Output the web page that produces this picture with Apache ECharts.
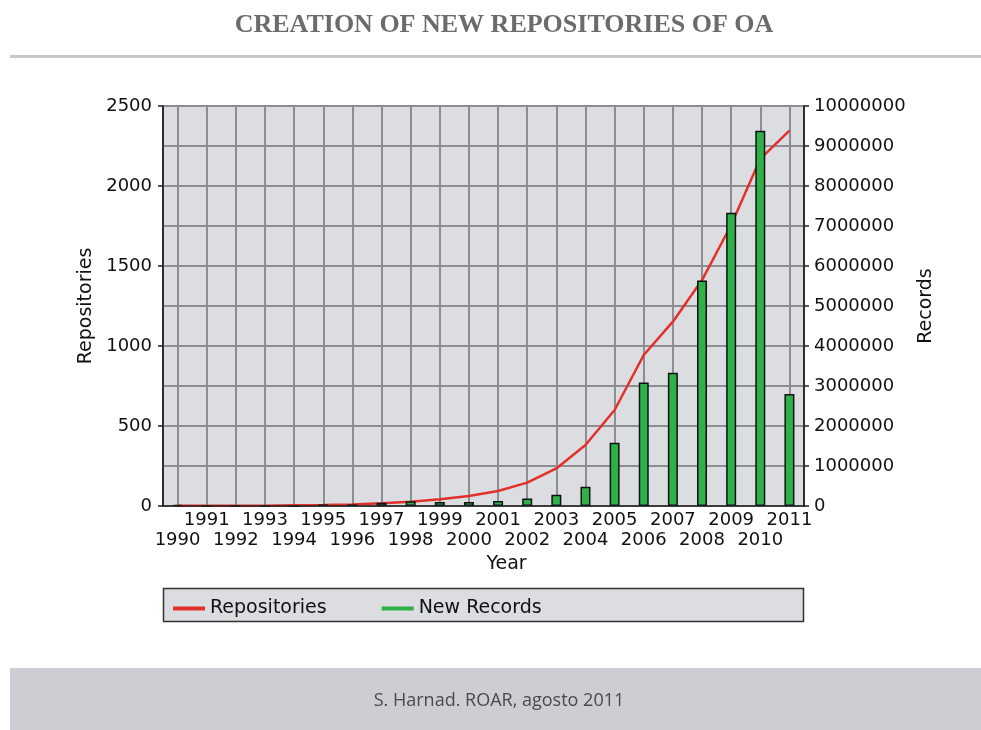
<!DOCTYPE html>
<html>
<head>
<meta charset="utf-8">
<script src="https://cdn.jsdelivr.net/npm/echarts@6/dist/echarts.min.js"></script>
<style>
html,body{margin:0;padding:0;background:#fff;}
#chart{width:981px;height:730px;}
</style>
</head>
<body>
<div id="chart"></div>
<script>
const titleText = 'CREATION OF NEW REPOSITORIES OF OA';
const sourceText = 'S. Harnad. ROAR, agosto 2011';
const years = ['1990','1991','1992','1993','1994','1995','1996','1997','1998','1999','2000','2001','2002','2003','2004','2005','2006','2007','2008','2009','2010','2011'];
const repositories = [1,1,1,2,4,6,10,17,27,42,62,94,146,235,381,600,944,1152,1412,1756,2170,2346];
const newRecords = [30000,0,0,0,0,40000,40000,80000,120000,100000,100000,125000,190000,280000,480000,1580000,3090000,3330000,5640000,7330000,9380000,2800000];
const seriesNames = ['Repositories','New Records'];

const chart = echarts.init(document.getElementById('chart'));
const FONT = 'DejaVu Sans';
const GRIDC = '#8e8e92';
const option = {
  backgroundColor: '#ffffff',
  animation: false,
  graphic: [
    {type:'text', x:504, y:12, style:{text:titleText, font:'bold 26px "Liberation Serif"', fill:'#6b6b6e', textAlign:'center'}},
    {type:'rect', shape:{x:10,y:55,width:971,height:3}, style:{fill:'#c8c8ce'}},
    {type:'rect', z:-10, shape:{x:163.5,y:588.5,width:640,height:33}, style:{fill:'#dcdde0', stroke:'#333', lineWidth:1.5}},
    {type:'rect', shape:{x:10,y:668,width:971,height:62}, style:{fill:'#cdcdd3'}},
    {type:'text', x:499, y:701, style:{text:sourceText, font:'18px "Open Sans"', fill:'#4a4a4a', textAlign:'center', textVerticalAlign:'middle'}}
  ],
  legend: {
    left: 168, top: 594,
    icon: 'rect', itemWidth: 32, itemHeight: 4, itemGap: 55,
    textStyle: {fontFamily: FONT, fontSize: 19, color: '#111'},
    data: [
      {name: seriesNames[0], itemStyle:{color:'#e2312b', borderWidth:0}},
      {name: seriesNames[1], itemStyle:{color:'#2fb14a', borderWidth:0}}
    ]
  },
  grid: {
    left: 163, right: 177, top: 106, bottom: 224,
    show: true, backgroundColor: '#dcdde0', borderColor: '#222', borderWidth: 1.5
  },
  xAxis: [
    {
      type: 'category', data: years, boundaryGap: true,
      name: 'Year', nameLocation: 'middle', nameGap: 46,
      nameTextStyle: {fontFamily: FONT, fontSize: 19, color: '#111', padding:[0,0,0,46]},
      axisLine: {onZero: false, lineStyle: {color: '#222', width: 1.5}},
      axisTick: {alignWithLabel: true, length: 5, lineStyle: {color:'#222', width: 1.5}},
      splitLine: {show: false},
      axisLabel: {
        interval: 0, margin: 4, fontFamily: FONT, fontSize: 18, color: '#111', lineHeight: 20,
        formatter: function (v, i) { return i % 2 === 0 ? '\n' + v : v; }
      },
      z: 5
    },
    {
      type: 'value', min: -0.5, max: years.length - 0.5, splitNumber: years.length,
      minInterval: 1, maxInterval: 1, position: 'bottom',
      axisLine: {show: false, onZero: false}, axisTick: {show: false}, axisLabel: {show: false},
      splitLine: {show: true, showMinLine: false, showMaxLine: false, lineStyle: {color: GRIDC, width: 2}}
    }
  ],
  yAxis: [
    {
      type: 'value', min: 0, max: 2500, interval: 500, position: 'left',
      name: 'Repositories', nameLocation: 'middle', nameGap: 51, nameRotate: 90,
      nameTextStyle: {fontFamily: FONT, fontSize: 19, color: '#111'},
      axisLine: {show: true, onZero: false, lineStyle: {color: '#222', width: 1.5}},
      axisTick: {show: true, length: 5, lineStyle: {color:'#222', width: 1.5}},
      axisLabel: {margin: 11, fontFamily: FONT, fontSize: 18, color: '#111', formatter: function (v) { return String(v); }},
      splitLine: {show: true, lineStyle: {color: GRIDC, width: 2}},
      minorTick: {show: false, splitNumber: 2},
      minorSplitLine: {show: true, lineStyle: {color: GRIDC, width: 2}}
    },
    {
      type: 'value', min: 0, max: 10000000, interval: 1000000, position: 'right',
      name: 'Records', nameLocation: 'middle', nameGap: 105, nameRotate: 90,
      nameTextStyle: {fontFamily: FONT, fontSize: 19, color: '#111'},
      axisLine: {show: true, onZero: false, lineStyle: {color: '#222', width: 1.5}},
      axisTick: {show: true, length: 5, lineStyle: {color:'#222', width: 1.5}},
      axisLabel: {margin: 10, fontFamily: FONT, fontSize: 18, color: '#111', formatter: function (v) { return String(v); }},
      splitLine: {show: false}
    }
  ],
  series: [
    {
      name: seriesNames[0], type: 'line', xAxisIndex: 0, yAxisIndex: 0, data: repositories,
      showSymbol: false, symbol: 'none', z: 2,
      lineStyle: {color: '#e2312b', width: 2.5},
      itemStyle: {color: '#e2312b'}
    },
    {
      name: seriesNames[1], type: 'bar', xAxisIndex: 0, yAxisIndex: 1, data: newRecords,
      barWidth: 10, z: 3,
      itemStyle: {color: '#2fb14a', borderColor: '#111', borderWidth: 1.5}
    }
  ]
};
chart.setOption(option);
</script>
</body>
</html>
